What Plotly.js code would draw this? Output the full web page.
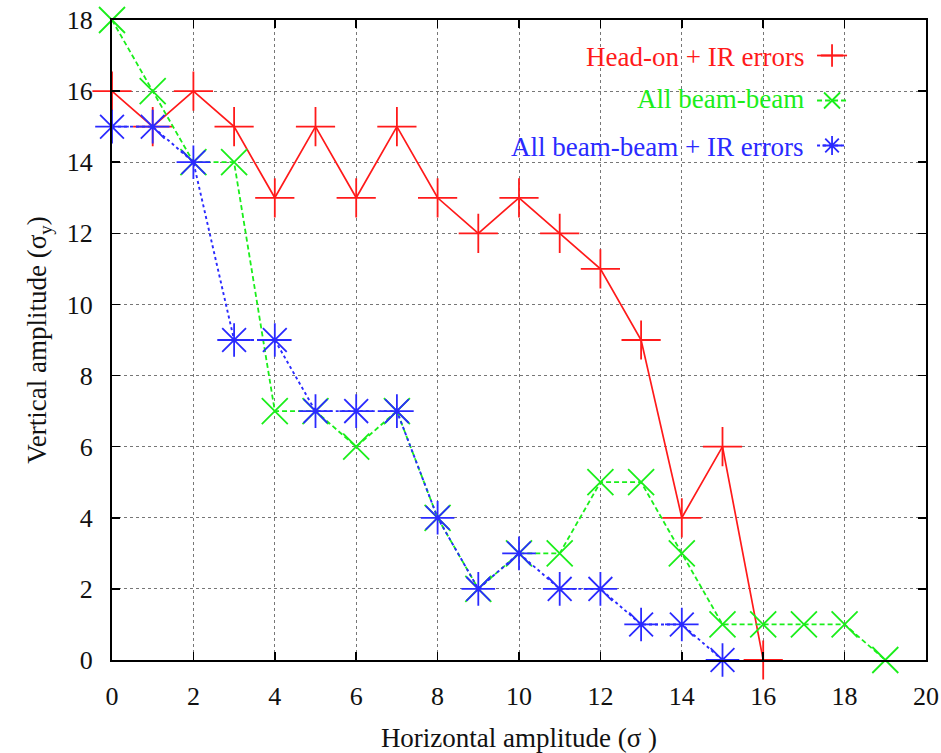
<!DOCTYPE html>
<html>
<head>
<meta charset="utf-8">
<script src="https://cdn.plot.ly/plotly-3.0.1.min.js"></script>
<style>html,body{margin:0;padding:0;background:#fff;}#chart{width:941px;height:753px;}</style>
</head>
<body>
<div id="chart"></div>
<script>
// Data
const seriesNames = ["Head-on + IR errors", "All beam-beam", "All beam-beam + IR errors"];
const xHeadOn = [0,1,2,3,4,5,6,7,8,9,10,11,12,13,14,15,16];
const yHeadOn = [16,15,16,15,13,15,13,15,13,12,13,12,11,9,4,6,0];
const xAllBB = [0,1,2,3,4,5,6,7,8,9,10,11,12,13,14,15,16,17,18,19];
const yAllBB = [18,16,14,14,7,7,6,7,4,2,3,3,5,5,3,1,1,1,1,0];
const xAllBBIR = [0,1,2,3,4,5,6,7,8,9,10,11,12,13,14,15];
const yAllBBIR = [15,15,14,9,9,7,7,7,4,2,3,2,2,1,1,0];
const xTicks = [0,2,4,6,8,10,12,14,16,18,20];
const yTicks = [0,2,4,6,8,10,12,14,16,18];

const colors = ["#ff1a1a", "#1aee1a", "#2a2aff"];
const font = "'Liberation Serif', 'Times New Roman', Times, serif";

const traces = [
  {x: xHeadOn, y: yHeadOn, mode: "lines+markers", name: " ", legendgroup: "a", cliponaxis: false,
   line: {color: colors[0], width: 1.7, dash: "solid"},
   marker: {symbol: "cross-thin-open", size: 28, line: {color: colors[0], width: 1.8}}},
  {x: xAllBB, y: yAllBB, mode: "lines+markers", name: " ", legendgroup: "b", cliponaxis: false,
   line: {color: colors[1], width: 1.8, dash: "5px,3px"},
   marker: {symbol: "x-thin-open", size: 26, line: {color: colors[1], width: 1.8}}},
  {x: xAllBBIR, y: yAllBBIR, mode: "lines+markers", name: " ", legendgroup: "c", cliponaxis: false,
   line: {color: colors[2], width: 1.9, dash: "dot"},
   marker: {symbol: "asterisk-open", size: 28, line: {color: colors[2], width: 1.8}}}
];

const legendY = [0.942, 0.877, 0.802];
const annotations = seriesNames.map((n, i) => ({
  xref: "paper", yref: "paper", x: 0.852, y: legendY[i], xanchor: "right", yanchor: "middle",
  text: n, showarrow: false, font: {family: font, size: 27, color: colors[i]}
}));

const axisCommon = {
  showline: true, linecolor: "#000", linewidth: 2, mirror: "allticks",
  ticks: "inside", ticklen: 8, tickcolor: "#000", tickwidth: 1.5,
  showgrid: true, gridcolor: "#777", griddash: "dot", gridwidth: 1,
  zeroline: false, tickfont: {family: font, size: 26, color: "#111"}
};

const layout = {
  width: 941, height: 753,
  margin: {l: 112, r: 15, t: 20, b: 93},
  paper_bgcolor: "#fff", plot_bgcolor: "#fff",
  font: {family: font},
  showlegend: true,
  legend: {x: 0.86, xanchor: "left", y: 0.975, yanchor: "top", bgcolor: "rgba(0,0,0,0)",
           font: {family: font, size: 20}, tracegroupgap: 16, itemsizing: "trace"},
  xaxis: Object.assign({}, axisCommon, {range: [0, 20], tickvals: xTicks, ticktext: xTicks.map(String),
    ticklabelstandoff: 12,
    title: {text: "Horizontal amplitude (σ )", font: {family: font, size: 27, color: "#111"}, standoff: 18}}),
  yaxis: Object.assign({}, axisCommon, {range: [0, 18], tickvals: yTicks, ticktext: yTicks.map(String),
    ticklabelstandoff: 12,
    title: {text: "Vertical amplitude (σ<sub>y</sub>)", font: {family: font, size: 27, color: "#111"}, standoff: 12}}),
  annotations: annotations
};

Plotly.newPlot("chart", traces, layout, {displayModeBar: false, staticPlot: true});
</script>
</body>
</html>
